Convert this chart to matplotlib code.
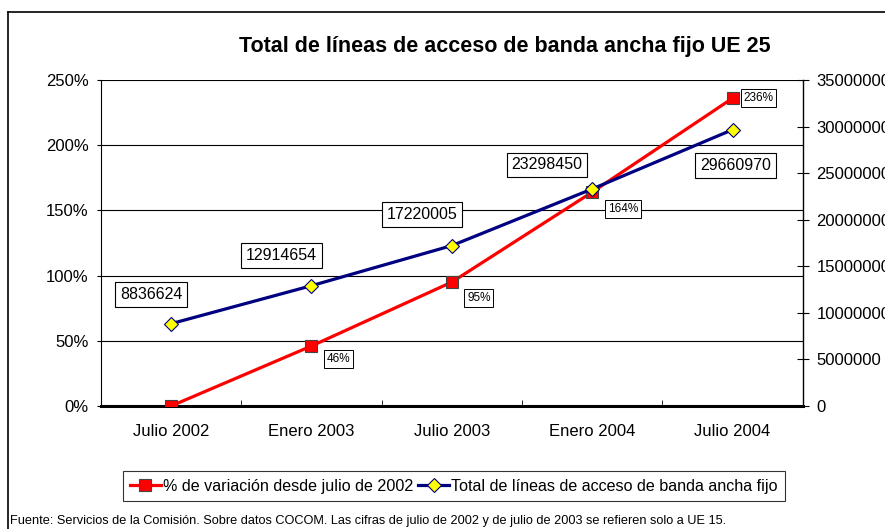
import matplotlib.pyplot as plt
from matplotlib.lines import Line2D
from matplotlib.ticker import FuncFormatter

plt.rcParams['font.family'] = ['Liberation Sans', 'DejaVu Sans']

periodos = ["Julio 2002", "Enero 2003", "Julio 2003", "Enero 2004", "Julio 2004"]
variacion = [0, 46, 95, 164, 236]          # % de variación desde julio de 2002
total_lineas = [8836624, 12914654, 17220005, 23298450, 29660970]

fig = plt.figure(figsize=(8.85, 5.29), dpi=100)
ax = fig.add_axes([0.114, 0.2325, 0.793, 0.6163])
ax2 = ax.twinx()

x = list(range(len(periodos)))

# serie en % (eje izquierdo)
l1, = ax.plot(x, [v / 100 for v in variacion], color="#ff0000", lw=2.3,
              marker="s", ms=9, mfc="#ff0000", mec="#444444", mew=0.8,
              label="% de variación desde julio de 2002", zorder=3)
# serie total (eje derecho)
l2, = ax2.plot(x, total_lineas, color="#000080", lw=2.3,
               marker="D", ms=7, mfc="#ffff00", mec="#000080", mew=0.8,
               label="Total de líneas de acceso de banda ancha fijo", zorder=3)

ax.set_xlim(-0.5, 4.5)
ax.set_ylim(0, 2.5)
ax2.set_ylim(0, 35000000)
ax.set_yticks([0, 0.5, 1, 1.5, 2, 2.5])
ax.yaxis.set_major_formatter(FuncFormatter(lambda v, p: f"{v*100:.0f}%"))
ax2.set_yticks(range(0, 35000001, 5000000))
ax2.yaxis.set_major_formatter(FuncFormatter(lambda v, p: f"{v:.0f}"))

ax.set_xticks(x)
ax.set_xticklabels(periodos, fontsize=12)
ax.set_xticks([0.5, 1.5, 2.5, 3.5], minor=True)
ax.tick_params(axis="x", which="major", length=0, pad=13)
ax.tick_params(axis="x", which="minor", direction="in", length=4)
ax.tick_params(axis="y", length=3, width=0.8, labelsize=12, pad=6)
ax2.tick_params(axis="y", direction="inout", length=8, width=0.8, labelsize=12, pad=6)

ax.grid(axis="y", color="black", lw=0.8)
for a in (ax, ax2):
    a.spines["top"].set_visible(False)
ax2.spines["left"].set_visible(False)
ax.spines["right"].set_visible(False)
ax2.spines["bottom"].set_visible(False)
ax.spines["left"].set_linewidth(0.8)
ax.spines["bottom"].set_linewidth(2.2)
ax2.spines["right"].set_linewidth(1.0)

# etiquetas de valores totales (desplazamiento en píxeles)
offs_total = [(-20, 29), (-30, 30), (-30, 31), (-45, 24), (3, -36)]
for i, v in enumerate(total_lineas):
    ax2.annotate(str(v), (i, v), xytext=offs_total[i], textcoords="offset pixels",
                 ha="center", va="center", fontsize=11.5,
                 bbox=dict(boxstyle="square,pad=0.3", fc="white", ec="black", lw=0.8),
                 zorder=5)

# etiquetas de porcentaje
offs_pct = [None, (27, -13), (27, -16), (31, -17), (26, 0)]
for i, v in enumerate(variacion):
    if offs_pct[i] is None:
        continue
    ax.annotate(f"{v}%", (i, v / 100), xytext=offs_pct[i], textcoords="offset pixels",
                ha="center", va="center", fontsize=8.5,
                bbox=dict(boxstyle="square,pad=0.25", fc="white", ec="black", lw=0.7),
                zorder=6)

fig.text(0.570, 0.913, "Total de líneas de acceso de banda ancha fijo UE 25",
         ha="center", va="center", fontsize=15.5, fontweight="bold")

leg = fig.legend(handles=[l1, l2], loc="center", bbox_to_anchor=(0.513, 0.081),
                 ncol=2, frameon=True, fontsize=11.6, handlelength=1.9,
                 handletextpad=0.15, columnspacing=0.3, borderpad=0.45, fancybox=False)
leg.get_frame().set_edgecolor("black")
leg.get_frame().set_linewidth(0.8)

fig.text(0.011, 0.015, "Fuente: Servicios de la Comisión. Sobre datos COCOM. Las cifras de julio de 2002 "
         "y de julio de 2003 se refieren solo a UE 15.", fontsize=9.2, ha="left", va="center")

# marco exterior del gráfico
fig.add_artist(Line2D([0.009, 0.009], [0, 0.977], color="black", lw=1.2, transform=fig.transFigure))
fig.add_artist(Line2D([0.009, 1.0], [0.977, 0.977], color="black", lw=1.2, transform=fig.transFigure))

fig.savefig("out.png", dpi=100)
